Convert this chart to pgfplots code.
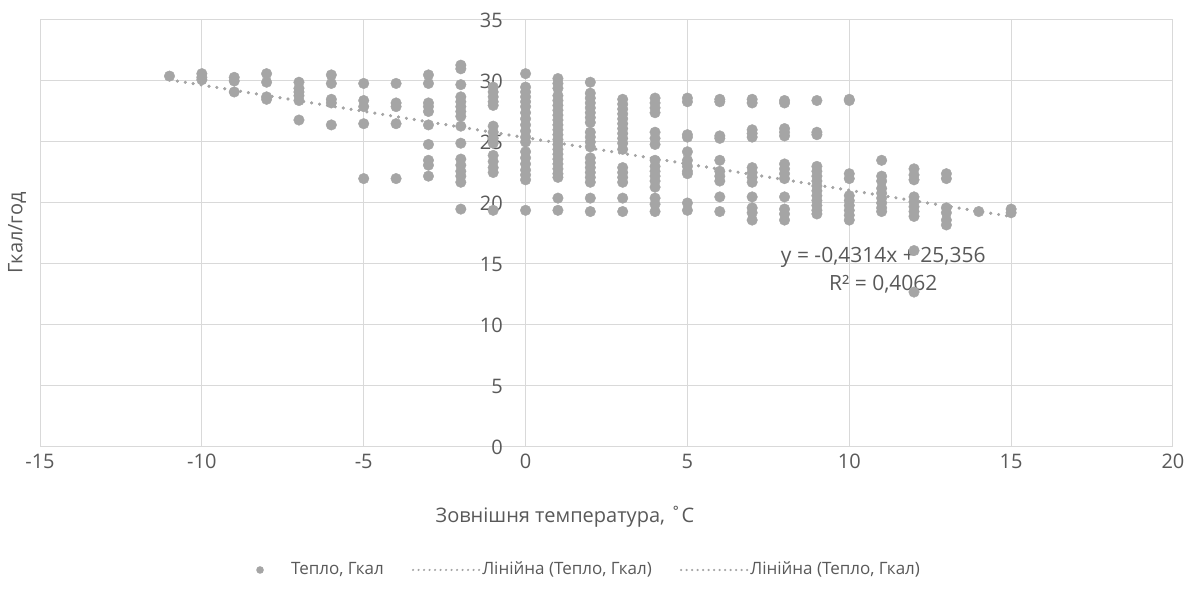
\documentclass[border=0pt]{standalone}
\usepackage{pgfplots}
\usepackage{pgfplotstable}
\pgfplotsset{compat=1.18}
\usepackage{fontspec}
\setmainfont{Open Sans}
\definecolor{dots}{HTML}{A5A5A5}
\definecolor{txt}{HTML}{595959}
\definecolor{gridc}{HTML}{D9D9D9}

% heat vs outdoor temperature
\pgfplotstableread{
x y
-11 30.4
-10 30.6
-10 30.3
-10 30.1
-9 30.3
-9 30.0
-9 29.1
-8 30.6
-8 29.9
-8 28.7
-8 28.5
-7 29.9
-7 29.4
-7 29.1
-7 28.8
-7 28.4
-7 26.8
-6 30.5
-6 29.8
-6 28.5
-6 28.2
-6 26.4
-5 29.8
-5 28.4
-5 27.9
-5 26.5
-5 22.0
-4 29.8
-4 28.2
-4 27.9
-4 26.5
-4 22.0
-3 30.5
-3 29.8
-3 28.2
-3 27.9
-3 27.5
-3 26.4
-3 24.8
-3 23.5
-3 23.1
-3 22.2
-2 31.3
-2 31.0
-2 29.7
-2 28.7
-2 28.3
-2 27.9
-2 27.5
-2 27.1
-2 26.3
-2 24.9
-2 23.6
-2 23.1
-2 22.6
-2 22.2
-2 21.7
-2 19.5
-1 29.5
-1 29.1
-1 28.7
-1 28.3
-1 28.0
-1 26.3
-1 25.8
-1 25.3
-1 24.9
-1 23.9
-1 23.4
-1 22.9
-1 22.5
-1 19.4
0 30.6
0 29.5
0 29.1
0 28.7
0 28.3
0 27.9
0 27.4
0 26.9
0 26.4
0 25.9
0 25.4
0 25.0
0 24.2
0 23.7
0 23.2
0 22.7
0 22.3
0 21.9
0 19.4
1 30.2
1 29.8
1 29.4
1 28.8
1 28.4
1 28.0
1 27.6
1 27.2
1 26.8
1 26.4
1 26.0
1 25.6
1 25.2
1 24.8
1 24.4
1 24.0
1 23.6
1 23.2
1 22.8
1 22.4
1 22.1
1 20.4
1 19.4
2 29.9
2 29.0
2 28.6
2 28.2
2 27.8
2 27.4
2 27.0
2 26.6
2 25.8
2 25.4
2 25.0
2 24.6
2 23.7
2 23.3
2 22.9
2 22.5
2 22.1
2 21.7
2 20.4
2 19.3
3 28.5
3 28.1
3 27.7
3 27.3
3 26.9
3 26.5
3 26.1
3 25.7
3 25.3
3 24.9
3 24.4
3 22.9
3 22.5
3 22.1
3 21.7
3 20.4
3 19.3
4 28.6
4 28.2
4 27.8
4 27.4
4 25.8
4 25.3
4 24.8
4 23.5
4 23.0
4 22.6
4 22.2
4 21.8
4 21.3
4 20.4
4 19.9
4 19.3
5 28.6
5 28.3
5 25.6
5 25.4
5 24.2
5 23.5
5 23.0
5 22.6
5 22.4
5 20.0
5 19.4
6 28.5
6 28.3
6 25.5
6 25.3
6 23.5
6 22.6
6 22.2
6 21.8
6 20.5
6 19.3
7 28.5
7 28.2
7 26.0
7 25.7
7 25.4
7 22.9
7 22.5
7 22.1
7 21.7
7 20.5
7 19.6
7 19.2
7 18.6
8 28.4
8 28.2
8 26.1
8 25.8
8 25.5
8 23.2
8 22.8
8 22.4
8 22.0
8 20.5
8 19.5
8 19.1
8 18.6
9 28.4
9 25.8
9 25.6
9 23.0
9 22.6
9 22.2
9 21.8
9 21.4
9 21.0
9 20.6
9 20.2
9 19.8
9 19.4
9 19.1
10 28.5
10 28.4
10 22.4
10 22.0
10 20.6
10 20.2
10 19.8
10 19.4
10 19.0
10 18.6
11 23.5
11 22.2
11 21.8
11 21.2
11 20.8
11 20.4
11 20.0
11 19.6
11 19.3
12 22.8
12 22.3
12 21.9
12 20.5
12 20.1
12 19.7
12 19.3
12 18.9
12 16.1
12 12.7
13 22.4
13 22.0
13 19.6
13 19.2
13 18.6
13 18.2
14 19.3
15 19.5
15 19.2
}\heat

\begin{document}
\fontsize{20bp}{24bp}\selectfont
\begin{tikzpicture}
\begin{axis}[set layers,
 at={(40bp,151bp)},anchor=south west,scale only axis,
 width=1133bp,height=427bp,
 xmin=-15,xmax=20,ymin=0,ymax=35,
 xtick={-15,-10,...,20},ytick={0,5,...,35},
 axis lines=middle,axis line style={-,draw=gridc,line width=1bp},
 grid=major,grid style={draw=gridc,line width=1bp},
 major tick length=0pt,
 hide obscured x ticks=false,hide obscured y ticks=false,
 /pgf/number format/assume math mode=true,
 tick label style={text=txt,font=\fontsize{20bp}{24bp}\selectfont},
 yticklabel style={xshift=-16bp},
 clip=false,
 legend columns=3,
 legend cell align=left,
 legend style={at={(0.470,-0.288)},anchor=center,draw=none,fill=none,
  text=txt,font=\fontsize{17bp}{21bp}\selectfont,
  /tikz/every even column/.append style={column sep=26bp}},
]
\addplot[on layer=axis ticks,only marks,mark=*,mark size=5.3bp,color=dots,
 legend image code/.code={\path[draw=none,fill=none] (0bp,0bp) -- (66bp,0bp);
  \node[circle,draw=none,fill=dots,inner sep=0pt,minimum size=7.6bp] at (33bp,0bp) {};}]
 table[x=x,y=y]{\heat};
\addlegendentry{Тепло, Гкал}
\addplot[on layer=axis ticks,color=dots,line width=3.2bp,line cap=round,dash pattern=on 0bp off 8bp,
 legend image code/.code={\draw[color=dots,line width=2.4bp,line cap=round,dash pattern=on 0bp off 5.5bp] (0bp,0bp) -- (66bp,0bp);}]
 coordinates {(-11,30.10) (15,18.89)};
\addlegendentry{Лінійна (Тепло, Гкал)}
\addplot[on layer=axis ticks,color=dots,line width=3.2bp,line cap=round,dash pattern=on 0bp off 8bp,
 legend image code/.code={\draw[color=dots,line width=2.4bp,line cap=round,dash pattern=on 0bp off 5.5bp] (0bp,0bp) -- (66bp,0bp);}]
 coordinates {(-11,30.10) (15,18.89)};
\addlegendentry{Лінійна (Тепло, Гкал)}
\node[align=center,text=txt,font=\fontsize{21bp}{28bp}\selectfont] at (axis cs:11.05,14.5)
 {y = -0,4314x + 25,356\\R² = 0,4062};
\end{axis}
\node[text=txt] at (565bp,81bp) {Зовнішня температура, ˚C};
\node[text=txt,rotate=90] at (17bp,365bp) {Гкал/год};
\path (0,0) rectangle (1200bp,598bp);
\end{tikzpicture}
\end{document}
